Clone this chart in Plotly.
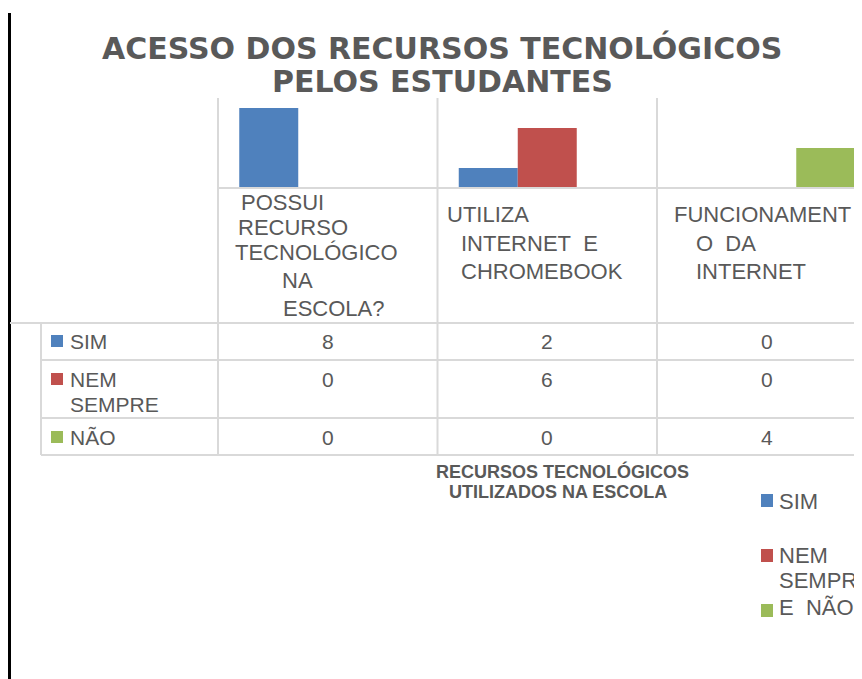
import plotly.graph_objects as go

# ---------------- data ----------------
categories = ["POSSUI RECURSO TECNOLÓGICO NA ESCOLA?",
              "UTILIZA INTERNET E CHROMEBOOK",
              "FUNCIONAMENTO DA INTERNET"]
series_names = ["SIM", "NEM SEMPRE", "NÃO"]
sim = [8, 2, 0]
nem_sempre = [0, 6, 0]
nao = [0, 0, 4]
series_values = [sim, nem_sempre, nao]
title_lines = ["ACESSO DOS RECURSOS TECNOLÓGICOS", "PELOS ESTUDANTES"]
axis_title_lines = ["RECURSOS TECNOLÓGICOS", "UTILIZADOS NA ESCOLA"]
# category labels as they wrap in the picture
cat_label_lines = [["POSSUI", "RECURSO", "TECNOLÓGICO", "NA", "ESCOLA?"],
                   ["UTILIZA", "INTERNET\u00a0 E", "CHROMEBOOK"],
                   ["FUNCIONAMENT", "O\u00a0 DA", "INTERNET"]]
table_row_label_lines = [["SIM"], ["NEM", "SEMPRE"], ["NÃO"]]
legend_lines = ["SIM", "NEM", "SEMPR", "E\u00a0 NÃO"]

# ---------------- style / layout ----------------
colors = ["#4f81bd", "#c0504d", "#9bbb59"]
TXT = "#595959"
GRID = "#d9d9d9"
FONT = "Liberation Sans, Arial, sans-serif"
TITLE_FONT = "DejaVu Sans, sans-serif"
OX, OY = 8, 8            # page body margin in the browser
W, H = 862 - OX, 679 - OY
PLOT_L, PLOT_R, PLOT_T, PLOT_B = 218, 862, 98, 188   # window pixels
CAT_W = 219.5


def px(x):
    return (x - OX) / W


def py(y):
    return 1 - (y - OY) / H


fig = go.Figure()
for name, vals, col in zip(series_names, series_values, colors):
    fig.add_trace(go.Bar(x=categories, y=vals, name=name, marker_color=col,
                         marker_line_width=0, showlegend=False))

shapes = []
annotations = []


def hline(y, x0, x1, color=GRID, w=2):
    shapes.append(dict(type="line", xref="paper", yref="paper",
                       x0=px(x0), x1=px(x1), y0=py(y), y1=py(y),
                       line=dict(color=color, width=w)))


def vline(x, y0, y1, color=GRID, w=2):
    shapes.append(dict(type="line", xref="paper", yref="paper",
                       x0=px(x), x1=px(x), y0=py(y0), y1=py(y1),
                       line=dict(color=color, width=w)))


def text(t, x, y, size=22, anchor="left", bold=False, family=FONT):
    annotations.append(dict(text=f"<b>{t}</b>" if bold else t,
                            xref="paper", yref="paper",
                            x=px(x), y=py(y), xanchor=anchor, yanchor="middle",
                            showarrow=False,
                            font=dict(family=family, size=size, color=TXT)))


def square(x0, y0, x1, y1, color):
    shapes.append(dict(type="rect", xref="paper", yref="paper",
                       x0=px(x0), x1=px(x1), y0=py(y0), y1=py(y1),
                       fillcolor=color, line=dict(width=0)))


# page border line on the left
vline(9.5, 13, 679, color="#000000", w=3)

# table grid
col_bounds = [PLOT_L + CAT_W * i for i in range(3)]
for xb in col_bounds:
    vline(xb, PLOT_T, 455)
vline(41, 323, 455)
hline(PLOT_B, PLOT_L, 862)
hline(323, 10, 862)
for yy in (360, 418, 455):
    hline(yy, 41, 862)

# title
text(title_lines[0], 442, 48, size=30, anchor="center", bold=True, family=TITLE_FONT)
text(title_lines[1], 442, 81, size=30, anchor="center", bold=True, family=TITLE_FONT)

# category labels (wrapped inside table header cells)
cat_line_pos = [
    [(239, 202), (236, 227), (233, 252), (280, 280), (281, 308)],
    [(445, 215), (459, 243), (459, 271)],
    [(672, 215), (694, 243), (694, 271)],
]
for lines, poss in zip(cat_label_lines, cat_line_pos):
    for t, (x, y) in zip(lines, poss):
        text(t, x, y, size=22)

# table rows: key, label, values
row_first_y = [341, 379, 437]
for r, (lines, col, vals) in enumerate(zip(table_row_label_lines, colors, series_values)):
    y0 = row_first_y[r]
    square(51, y0 - 6, 63, y0 + 6, col)
    for k, t in enumerate(lines):
        text(t, 68, y0 + 25 * k, size=21)
    for i, v in enumerate(vals):
        text(str(v), col_bounds[0] + CAT_W * (i + 0.5), y0, size=21, anchor="center")

# axis title
text(axis_title_lines[0], 562, 471, size=18, anchor="center", bold=True)
text(axis_title_lines[1], 558, 492, size=18, anchor="center", bold=True)

# legend (clipped by the page on the right)
square(761, 494, 773, 507, colors[0])
text(legend_lines[0], 777, 501, size=22)
square(761, 549, 773, 562, colors[1])
text(legend_lines[1], 777, 555, size=22)
text(legend_lines[2], 777, 580, size=22)
square(761, 604, 773, 617, colors[2])
text(legend_lines[3], 777, 607, size=22)

fig.update_layout(
    width=W, height=H,
    margin=dict(l=0, r=0, t=0, b=0),
    paper_bgcolor="white", plot_bgcolor="white",
    barmode="group", bargap=1 - 177 / CAT_W, bargroupgap=0,
    xaxis=dict(domain=[px(PLOT_L), 1], type="category",
               range=[-0.5, -0.5 + (PLOT_R - PLOT_L) / CAT_W],
               showticklabels=False, showgrid=False, zeroline=False,
               showline=False, ticks=""),
    yaxis=dict(domain=[py(PLOT_B), py(PLOT_T)], range=[0, 9],
               showticklabels=False, showgrid=False, zeroline=False,
               showline=False, ticks=""),
    shapes=shapes, annotations=annotations,
    showlegend=False,
)

fig.write_html("out.html")
